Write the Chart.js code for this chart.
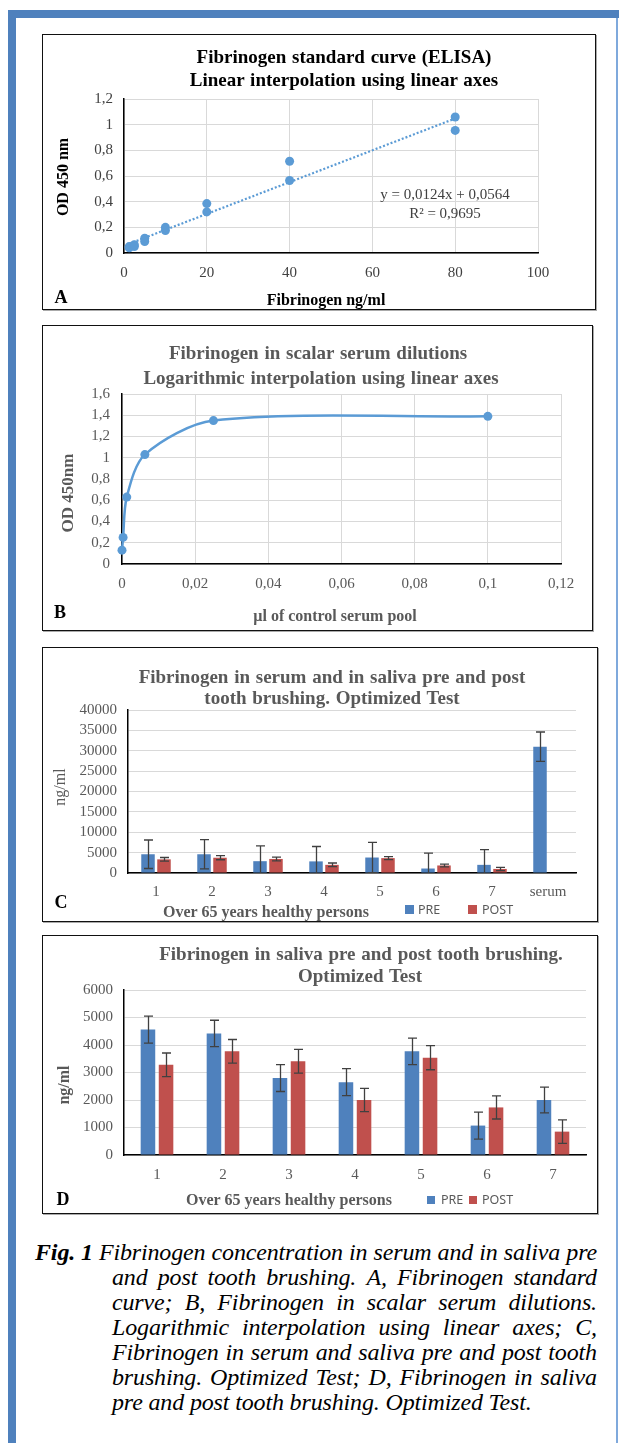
<!DOCTYPE html>
<html><head><meta charset="utf-8">
<script src="https://cdn.jsdelivr.net/npm/chart.js@4.4.1/dist/chart.umd.min.js"></script>
<style>
html,body{margin:0;padding:0;background:#fff}
body{width:619px;height:1443px;position:relative;overflow:hidden;font-family:"Liberation Serif","Times New Roman",serif}
.fr{position:absolute;background:#4f81bd}
.box{position:absolute;box-sizing:border-box;border:1.5px solid #111;box-shadow:1px 1px 0 #aaa;pointer-events:none;z-index:2}
canvas{position:absolute;z-index:1}
.t{position:absolute;white-space:pre;transform:translate(-50%,-50%);line-height:1;z-index:3}
.rot{transform:translate(-50%,-50%) rotate(-90deg)}
.tt{font-weight:bold;font-size:19px;color:#595959;word-spacing:1px}
.ax{font-weight:bold;font-size:16px;color:#595959}
.lt{font-weight:bold;font-size:18px;color:#000}
.lg{position:absolute;z-index:3;font-family:"Noto Sans",sans-serif;font-size:12.5px;color:#595959;line-height:1;transform:translateY(-50%)}
.sq{position:absolute;z-index:3;width:9px;height:9px}
#cap{position:absolute;left:35px;top:1240px;width:562px;font-style:italic;font-size:24px;letter-spacing:-0.15px;line-height:25px;color:#000}
#cap .j{display:flex;justify-content:space-between;height:25px;white-space:nowrap}
#cap .in{margin-left:77px}
#cap b{font-weight:bold}
</style>
</head>
<body>
<div class="fr" style="left:8px;top:10px;width:8px;height:1433px"></div>
<div class="fr" style="left:8px;top:10px;width:611px;height:8px"></div>
<div class="fr" style="left:616px;top:18px;width:2px;height:1425px;background:#7fa9dc"></div>

<!-- Panel A -->
<canvas id="cA" width="554" height="276" style="left:42px;top:34px"></canvas>
<div class="box" style="left:42px;top:34px;width:554px;height:276px"></div>
<div class="t tt" style="left:344px;top:56px;color:#000">Fibrinogen standard curve (ELISA)</div>
<div class="t tt" style="left:344px;top:79px;color:#000">Linear interpolation using linear axes</div>
<div class="t ax rot" style="left:63px;top:177px;color:#000">OD 450 nm</div>
<div class="t ax" style="left:326px;top:300px;color:#000">Fibrinogen ng/ml</div>
<div class="t lt" style="left:61px;top:297px">A</div>
<div class="t" style="left:445px;top:194px;font-size:15px;color:#404040">y = 0,0124x + 0,0564</div>
<div class="t" style="left:445px;top:213px;font-size:15px;color:#404040">R² = 0,9695</div>

<!-- Panel B -->
<canvas id="cB" width="551" height="306" style="left:42px;top:325px"></canvas>
<div class="box" style="left:42px;top:325px;width:551px;height:306px"></div>
<div class="t tt" style="left:318px;top:352px">Fibrinogen in scalar serum dilutions</div>
<div class="t tt" style="left:321px;top:377px">Logarithmic interpolation using linear axes</div>
<div class="t ax rot" style="left:67px;top:493px;font-size:17px">OD 450nm</div>
<div class="t ax" style="left:335px;top:616px">µl of control serum pool</div>
<div class="t lt" style="left:60px;top:612px">B</div>

<!-- Panel C -->
<canvas id="cC" width="556" height="275" style="left:42px;top:647px"></canvas>
<div class="box" style="left:42px;top:647px;width:556px;height:275px"></div>
<div class="t tt" style="left:332px;top:676px">Fibrinogen in serum and in saliva pre and post</div>
<div class="t tt" style="left:332px;top:697px">tooth brushing. Optimized Test</div>
<div class="t rot" style="left:60px;top:787px;font-size:16px;color:#595959">ng/ml</div>
<div class="t ax" style="left:266px;top:912px">Over 65 years healthy persons</div>
<div class="t lt" style="left:61px;top:902px">C</div>
<div class="sq" style="left:405px;top:905px;background:#4f81bd"></div>
<div class="lg" style="left:418px;top:910px">PRE</div>
<div class="sq" style="left:468px;top:905px;background:#c0504d"></div>
<div class="lg" style="left:482px;top:910px">POST</div>

<!-- Panel D -->
<canvas id="cD" width="556" height="279" style="left:42px;top:935px"></canvas>
<div class="box" style="left:42px;top:935px;width:556px;height:279px"></div>
<div class="t tt" style="left:361px;top:953px">Fibrinogen in saliva pre and post tooth brushing.</div>
<div class="t tt" style="left:360px;top:975px">Optimized Test</div>
<div class="t ax rot" style="left:64px;top:1085px">ng/ml</div>
<div class="t ax" style="left:289px;top:1200px">Over 65 years healthy persons</div>
<div class="t lt" style="left:63px;top:1199px">D</div>
<div class="sq" style="left:427px;top:1196px;width:8px;height:8px;background:#4f81bd"></div>
<div class="lg" style="left:441px;top:1200px">PRE</div>
<div class="sq" style="left:469px;top:1196px;width:8px;height:8px;background:#c0504d"></div>
<div class="lg" style="left:482px;top:1200px">POST</div>

<div id="cap">
<div class="j"><b>Fig.&nbsp;1</b> Fibrinogen concentration in serum and in saliva pre</div>
<div class="j in">and post tooth brushing. A, Fibrinogen standard</div>
<div class="j in">curve; B, Fibrinogen in scalar serum dilutions.</div>
<div class="j in">Logarithmic interpolation using linear axes; C,</div>
<div class="j in">Fibrinogen in serum and saliva pre and post tooth</div>
<div class="j in">brushing. Optimized Test; D, Fibrinogen in saliva</div>
<div class="in">pre and post tooth brushing. Optimized Test.</div>
</div>

<script>
// ---- Panel A: standard curve ----
const stdConc = [1.25, 1.25, 2.5, 2.5, 5, 5, 10, 10, 20, 20, 40, 40, 80, 80];
const stdOD = [0.04, 0.05, 0.05, 0.065, 0.09, 0.115, 0.175, 0.2, 0.32, 0.385, 0.565, 0.715, 0.955, 1.06];
const trendConc = [1.25, 80];
const trendOD = [0.072, 1.048];
const concTicksA = ['0', '20', '40', '60', '80', '100'];
const odTicksA = ['0', '0,2', '0,4', '0,6', '0,8', '1', '1,2'];

// ---- Panel B: serum dilutions ----
const serumVol = [0, 0.0003, 0.0013, 0.00625, 0.025, 0.1];
const serumOD = [0.13, 0.25, 0.63, 1.03, 1.35, 1.39];
const volTicksB = ['0', '0,02', '0,04', '0,06', '0,08', '0,1', '0,12'];
const odTicksB = ['0', '0,2', '0,4', '0,6', '0,8', '1', '1,2', '1,4', '1,6'];

// ---- Panel C: serum and saliva ----
const groupsC = ['1', '2', '3', '4', '5', '6', '7', 'serum'];
const preC = [4600, 4600, 2900, 2850, 3800, 1100, 2000, 31000];
const preErrC = [3500, 3600, 3750, 3650, 3700, 3800, 3750, 3600];
const postC = [3350, 3750, 3450, 2000, 3650, 1850, 1000, null];
const postErrC = [450, 500, 450, 450, 350, 350, 400, null];
const ngTicksC = ['0', '5000', '10000', '15000', '20000', '25000', '30000', '35000', '40000'];

// ---- Panel D: saliva ----
const persons = ['1', '2', '3', '4', '5', '6', '7'];
const preD = [4560, 4420, 2800, 2650, 3770, 1070, 2000];
const preErrD = [490, 480, 490, 490, 480, 490, 470];
const postD = [3280, 3770, 3410, 2000, 3540, 1730, 850];
const postErrD = [430, 430, 430, 420, 440, 420, 430];
const ngTicksD = ['0', '1000', '2000', '3000', '4000', '5000', '6000'];

Chart.defaults.font.family = "'Liberation Serif', 'Times New Roman', serif";
Chart.defaults.animation = false;

const fixY = w => s => { s.width = w; s.paddingTop = 0; s.paddingBottom = 0; };
const fixX = h => s => { s.height = h; s.paddingLeft = 0; s.paddingRight = 0; };
const lab = (arr, min, step) => v => arr[Math.round((v - min) / step)];
const GRID = '#d9d9d9';

const errorBars = {
  id: 'errorBars',
  afterDatasetsDraw(chart) {
    const { ctx, chartArea: a, scales: { y } } = chart;
    ctx.save();
    ctx.beginPath();
    ctx.rect(a.left, a.top - 1, a.right - a.left, a.bottom - a.top + 1);
    ctx.clip();
    ctx.strokeStyle = '#404040';
    ctx.lineWidth = 1.3;
    chart.data.datasets.forEach((ds, i) => {
      if (!ds.errors) return;
      const meta = chart.getDatasetMeta(i);
      meta.data.forEach((el, j) => {
        const v = ds.data[j], e = ds.errors[j];
        if (v == null || !e) return;
        const x = Math.round(el.x) + 0.5;
        const yt = y.getPixelForValue(v + e), yb = y.getPixelForValue(v - e);
        const c = 4.5;
        ctx.beginPath();
        ctx.moveTo(x, yt); ctx.lineTo(x, yb);
        ctx.moveTo(x - c, yt); ctx.lineTo(x + c, yt);
        ctx.moveTo(x - c, yb); ctx.lineTo(x + c, yb);
        ctx.stroke();
      });
    });
    ctx.restore();
  }
};

function baseOpts(pad) {
  return {
    responsive: false, animation: false, devicePixelRatio: 1,
    layout: { padding: { left: 0, top: pad.top, right: pad.right, bottom: 0 } },
    plugins: { legend: { display: false }, tooltip: { enabled: false }, title: { display: false } }
  };
}

// Panel A
new Chart(document.getElementById('cA'), {
  type: 'scatter',
  data: {
    datasets: [
      { type: 'line', data: trendConc.map((x, i) => ({ x, y: trendOD[i] })), borderColor: '#5b9bd5',
        borderWidth: 2.2, borderDash: [2, 2], pointRadius: 0, fill: false, order: 2 },
      { data: stdConc.map((x, i) => ({ x, y: stdOD[i] })), backgroundColor: '#5b9bd5',
        borderWidth: 0, pointRadius: 4.5, order: 1, clip: false }
    ]
  },
  options: Object.assign(baseOpts({ top: 65, right: 58 }), {
    scales: {
      x: { type: 'linear', min: 0, max: 100,
        ticks: { stepSize: 20, autoSkip: false, callback: lab(concTicksA, 0, 20), font: { size: 15 }, color: '#404040', padding: 11, maxRotation: 0 },
        grid: { color: GRID, drawTicks: false }, border: { color: '#000', width: 1.5 }, afterFit: fixX(57) },
      y: { min: 0, max: 1.2,
        ticks: { stepSize: 0.2, autoSkip: false, callback: lab(odTicksA, 0, 0.2), font: { size: 15 }, color: '#404040', padding: 11 },
        grid: { color: GRID, drawTicks: false }, border: { color: '#000', width: 1.5 }, afterFit: fixY(82) }
    }
  })
});

// Panel B
new Chart(document.getElementById('cB'), {
  type: 'line',
  data: {
    datasets: [
      { data: serumVol.map((x, i) => ({ x, y: serumOD[i] })), borderColor: '#5b9bd5', borderWidth: 2.5,
        tension: 0.3, pointRadius: 4.5, pointBackgroundColor: '#5b9bd5',
        pointBorderWidth: 0, fill: false, clip: false }
    ]
  },
  options: Object.assign(baseOpts({ top: 69, right: 32 }), {
    scales: {
      x: { type: 'linear', min: 0, max: 0.12,
        ticks: { stepSize: 0.02, autoSkip: false, callback: lab(volTicksB, 0, 0.02), font: { size: 15 }, color: '#595959', padding: 11, maxRotation: 0 },
        grid: { color: GRID, drawTicks: false }, border: { color: '#000', width: 1.5 }, afterFit: fixX(67) },
      y: { min: 0, max: 1.6,
        ticks: { stepSize: 0.2, autoSkip: false, callback: lab(odTicksB, 0, 0.2), font: { size: 15 }, color: '#595959', padding: 12 },
        grid: { color: GRID, drawTicks: false }, border: { color: '#000', width: 1.5 }, afterFit: fixY(80) }
    }
  })
});

// Panel C
new Chart(document.getElementById('cC'), {
  type: 'bar',
  data: {
    labels: groupsC,
    datasets: [
      { label: 'PRE', data: preC, errors: preErrC, backgroundColor: '#4f81bd', categoryPercentage: 0.571, barPercentage: 0.844 },
      { label: 'POST', data: postC, errors: postErrC, backgroundColor: '#c0504d', categoryPercentage: 0.571, barPercentage: 0.844 }
    ]
  },
  plugins: [errorBars],
  options: Object.assign(baseOpts({ top: 63, right: 22 }), {
    scales: {
      x: { ticks: { autoSkip: false, font: { size: 15 }, color: '#595959', padding: 10, maxRotation: 0 },
        grid: { display: false, drawTicks: false }, border: { color: '#000', width: 1.5 }, afterFit: fixX(49) },
      y: { min: 0, max: 40000,
        ticks: { stepSize: 5000, autoSkip: false, callback: lab(ngTicksC, 0, 5000), font: { size: 15 }, color: '#595959', padding: 11 },
        grid: { color: GRID, drawTicks: false }, border: { color: '#000', width: 1.5 }, afterFit: fixY(86) }
    }
  })
});

// Panel D
new Chart(document.getElementById('cD'), {
  type: 'bar',
  data: {
    labels: persons,
    datasets: [
      { label: 'PRE', data: preD, errors: preErrD, backgroundColor: '#4f81bd', categoryPercentage: 0.548, barPercentage: 0.805 },
      { label: 'POST', data: postD, errors: postErrD, backgroundColor: '#c0504d', categoryPercentage: 0.548, barPercentage: 0.805 }
    ]
  },
  plugins: [errorBars],
  options: Object.assign(baseOpts({ top: 55, right: 12 }), {
    scales: {
      x: { ticks: { autoSkip: false, font: { size: 15 }, color: '#595959', padding: 11, maxRotation: 0 },
        grid: { display: false, drawTicks: false }, border: { color: '#000', width: 1.5 }, afterFit: fixX(59) },
      y: { min: 0, max: 6000,
        ticks: { stepSize: 1000, autoSkip: false, callback: lab(ngTicksD, 0, 1000), font: { size: 15 }, color: '#595959', padding: 11 },
        grid: { color: GRID, drawTicks: false }, border: { color: '#000', width: 1.5 }, afterFit: fixY(82) }
    }
  })
});

// justify caption lines
document.querySelectorAll('#cap .j').forEach(el => {
  const parts = [];
  el.childNodes.forEach(n => {
    if (n.nodeType === 3) n.textContent.split(/\s+/).filter(Boolean).forEach(w => parts.push('<span>' + w + '</span>'));
    else parts.push(n.outerHTML);
  });
  el.innerHTML = parts.join('');
});
</script>
</body></html>
